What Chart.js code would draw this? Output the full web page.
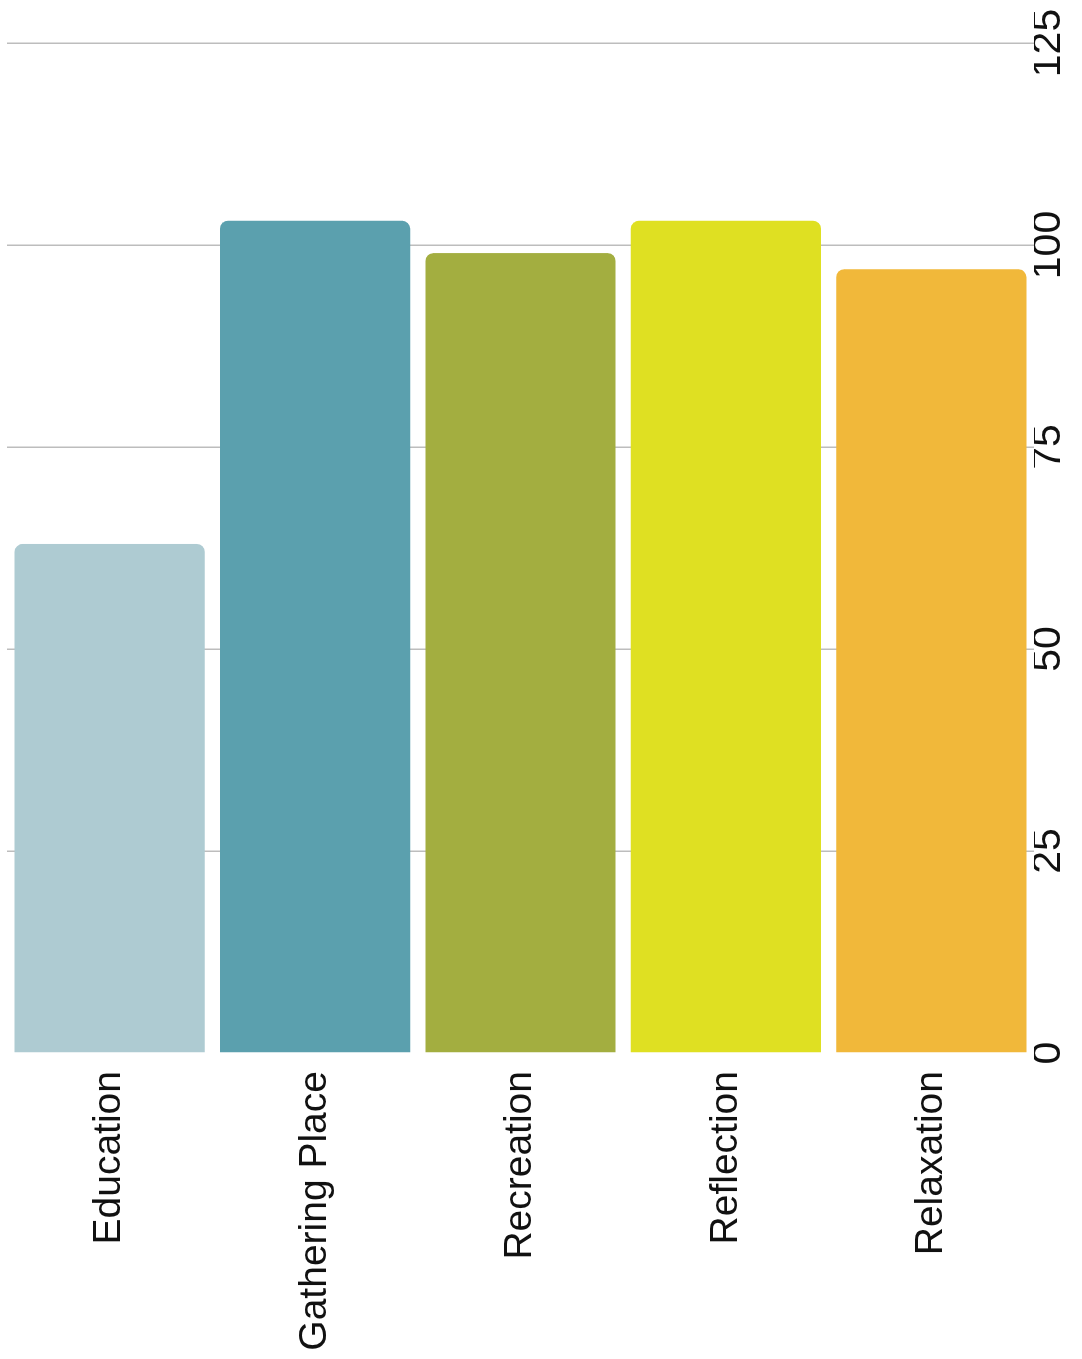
<!DOCTYPE html>
<html>
<head>
<meta charset="utf-8">
<script src="https://cdn.jsdelivr.net/npm/chart.js@4.4.1/dist/chart.umd.min.js"></script>
<style>
  html, body { margin: 0; padding: 0; background: #fff; }
  #wrap { position: relative; width: 1082px; height: 1359px; overflow: hidden; }
  /* chart is drawn sideways and turned a quarter turn left */
  #chart {
    position: absolute; left: 0; top: 0;
    transform-origin: 0 0;
    transform: translateY(1359px) rotate(-90deg);
  }
</style>
</head>
<body>
<div id="wrap"><canvas id="chart" width="1359" height="1082"></canvas></div>
<script>
const categories = ['Education', 'Gathering Place', 'Recreation', 'Reflection', 'Relaxation'];
const values = [63, 103, 99, 103, 97];
const barColors = ['#aecbd2', '#5ba0ae', '#a3ae40', '#dfe022', '#f1b83a'];
const valueTicks = [0, 25, 50, 75, 100, 125];

const FONT = 'Liberation Sans, Arial, sans-serif';

new Chart(document.getElementById('chart'), {
  type: 'bar',
  data: {
    labels: categories,
    datasets: [{
      data: values,
      backgroundColor: barColors,
      borderWidth: 0,
      borderRadius: 8,
      categoryPercentage: 1,
      barPercentage: 0.926
    }]
  },
  options: {
    indexAxis: 'y',
    responsive: false,
    animation: false,
    devicePixelRatio: 1,
    layout: { padding: { top: 7, right: 43, bottom: 0, left: 0 } },
    plugins: { legend: { display: false }, tooltip: { enabled: false } },
    scales: {
      x: {
        position: 'bottom',
        min: valueTicks[0],
        max: valueTicks[valueTicks.length - 1],
        afterBuildTicks: s => { s.ticks = valueTicks.map(v => ({ value: v })); },
        afterFit: s => { s.height = 48; s.paddingLeft = 0; s.paddingRight = 0; },
        ticks: {
          color: '#111',
          padding: 0,
          font: { family: FONT, size: 41, lineHeight: 0.7 }
        },
        grid: {
          drawTicks: false,
          lineWidth: 1.5,
          color: ctx => (ctx.tick && ctx.tick.value === 0) ? 'rgba(0,0,0,0)' : '#bdbdbd'
        },
        border: { display: false }
      },
      y: {
        afterFit: s => { s.width = 306; s.paddingTop = 0; s.paddingBottom = 0; },
        ticks: {
          color: '#111',
          padding: 10,
          font: { family: FONT, size: 39 }
        },
        grid: { display: false },
        border: { display: false }
      }
    }
  }
});
</script>
</body>
</html>
